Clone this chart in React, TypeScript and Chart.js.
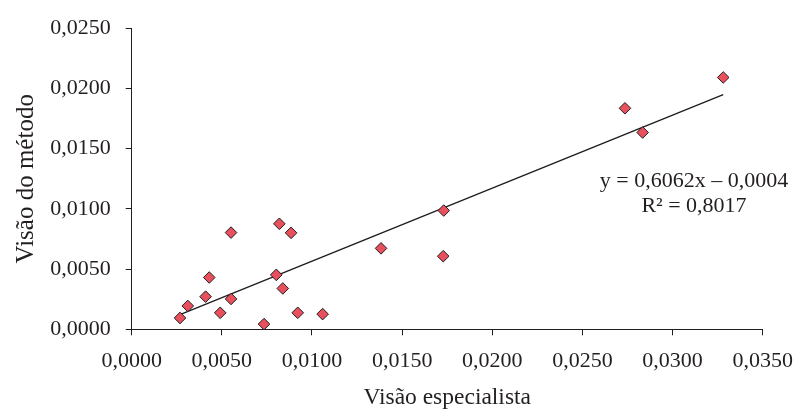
import React, { useEffect, useRef } from "react";
import { Chart, registerables } from "chart.js";

Chart.register(...registerables);

// Data points (Visão especialista, Visão do método)
const especialista = [
  0.00268, 0.00311, 0.0041, 0.0043, 0.00491, 0.00551, 0.00551, 0.00734, 0.00819, 0.00802,
  0.00838, 0.00884, 0.00921, 0.01059, 0.01383, 0.01728, 0.01731, 0.02736, 0.02834, 0.03281,
];
const metodo = [
  0.00094, 0.00194, 0.00271, 0.0043, 0.00137, 0.00803, 0.00252, 0.00043, 0.00876, 0.00452,
  0.00339, 0.00801, 0.00137, 0.00126, 0.00672, 0.00607, 0.00986, 0.01835, 0.01634, 0.02091,
];

// Linear trend line
const slope = 0.6062;
const intercept = -0.0004;
const equationLines = ["y = 0,6062x – 0,0004", "R² = 0,8017"];
const equationAnchor = { x: 0.03119, y: 0.01231 };

const xTicks = [0, 0.005, 0.01, 0.015, 0.02, 0.025, 0.03, 0.035];
const yTicks = [0, 0.005, 0.01, 0.015, 0.02, 0.025];

const xTitle = "Visão especialista";
const yTitle = "Visão do método";

const FONT = "'Liberation Serif', 'Times New Roman', serif";
const TEXT = "#231f20";

const fmt = (v: number) => v.toFixed(4).replace(".", ",");

export default function App() {
  const ref = useRef<HTMLCanvasElement | null>(null);

  useEffect(() => {
    if (!ref.current) return;
    const xMin = Math.min(...especialista);
    const xMax = Math.max(...especialista);
    const trend = [
      { x: xMin, y: slope * xMin + intercept },
      { x: xMax, y: slope * xMax + intercept },
    ];
    const points = especialista.map((x, i) => ({ x, y: metodo[i] }));

    const equationPlugin = {
      id: "equation",
      afterDatasetsDraw(chart: any) {
        const { ctx, scales } = chart;
        const px = scales.x.getPixelForValue(equationAnchor.x);
        const py = scales.y.getPixelForValue(equationAnchor.y);
        ctx.save();
        ctx.font = `22px ${FONT}`;
        ctx.fillStyle = TEXT;
        ctx.textAlign = "center";
        ctx.textBaseline = "middle";
        equationLines.forEach((t, i) => ctx.fillText(t, px, py + i * 25));
        ctx.restore();
      },
    };

    const chart = new Chart(ref.current, {
      type: "scatter",
      data: {
        datasets: [
          {
            type: "scatter",
            data: points,
            pointStyle: "rectRot",
            pointRadius: 5.8,
            pointHoverRadius: 5.8,
            backgroundColor: "#e8505e",
            borderColor: "#1e1e1e",
            borderWidth: 1,
            order: 1,
          },
          {
            type: "line",
            data: trend,
            borderColor: "#1e1e1e",
            borderWidth: 1.4,
            pointRadius: 0,
            fill: false,
            order: 2,
          } as any,
        ],
      },
      options: {
        animation: false,
        responsive: false,
        devicePixelRatio: 1,
        layout: { padding: { left: 0, top: 19.3, right: 35.3, bottom: 0 } },
        plugins: {
          legend: { display: false },
          tooltip: { enabled: false },
        },
        scales: {
          x: {
            type: "linear",
            min: 0,
            max: 0.035,
            afterBuildTicks: (s: any) => {
              s.ticks = xTicks.map((v) => ({ value: v }));
            },
            afterFit: (s: any) => {
              s.height = 88.7;
              s.paddingLeft = 0;
              s.paddingRight = 0;
            },
            grid: {
              display: true,
              drawOnChartArea: false,
              drawTicks: true,
              tickLength: 6,
              color: "#1e1e1e",
            },
            border: { display: true, color: "#1e1e1e", width: 1 },
            ticks: {
              padding: 13,
              maxRotation: 0,
              autoSkip: false,
              color: TEXT,
              font: { family: FONT, size: 22 },
              callback: (v: any) => fmt(Number(v)),
            },
            title: {
              display: true,
              text: xTitle,
              color: TEXT,
              font: { family: FONT, size: 23.5 },
              padding: { top: 0, bottom: 6 },
            },
          },
          y: {
            type: "linear",
            min: 0,
            max: 0.025,
            afterBuildTicks: (s: any) => {
              s.ticks = yTicks.map((v) => ({ value: v }));
            },
            afterFit: (s: any) => {
              s.width = 131.7;
            },
            grid: {
              display: true,
              drawOnChartArea: false,
              drawTicks: true,
              tickLength: 6,
              color: "#1e1e1e",
            },
            border: { display: true, color: "#1e1e1e", width: 1 },
            ticks: {
              padding: 15,
              autoSkip: false,
              color: TEXT,
              font: { family: FONT, size: 22 },
              callback: (v: any) => fmt(Number(v)),
            },
            title: {
              display: true,
              text: yTitle,
              color: TEXT,
              font: { family: FONT, size: 25 },
              padding: { top: 11, bottom: 0 },
            },
          },
        },
      },
      plugins: [equationPlugin],
    } as any);

    return () => chart.destroy();
  }, []);

  return (
    <div style={{ position: "fixed", left: 0, top: 0, width: 798, height: 418, background: "#fff" }}>
      <canvas ref={ref} width={798} height={418} style={{ width: 798, height: 418 }} />
    </div>
  );
}
